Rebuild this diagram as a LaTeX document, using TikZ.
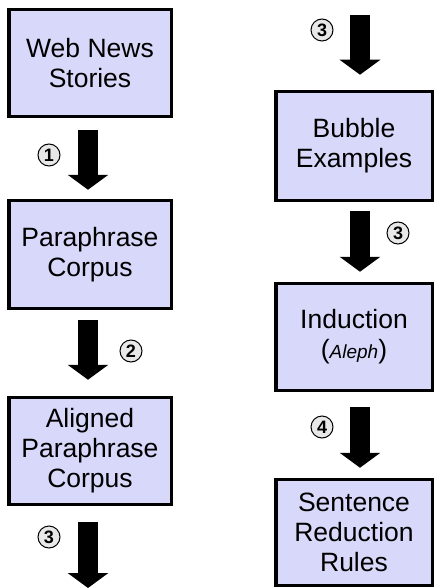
\documentclass[tikz,border=0pt]{standalone}
\usepackage{fontspec}
\setmainfont{Liberation Sans}
\usetikzlibrary{arrows.meta}
\definecolor{boxfill}{RGB}{216,216,250}
\definecolor{numfill}{RGB}{232,232,232}
\begin{document}
\begin{tikzpicture}[x=1pt,y=-1pt,
  box/.style={draw=black, line width=3.5pt, fill=boxfill, minimum width=162.5pt, minimum height=107pt, align=center, font=\fontsize{26.5}{30}\selectfont, inner sep=0pt},
  bigarrow/.style={draw=black, line width=20pt, -{Triangle[width=40pt,length=15pt]}},
  num/.style={circle, draw=black, line width=1pt, fill=numfill, minimum size=22pt, inner sep=0pt, font=\fontsize{18}{18}\selectfont\bfseries}]
\useasboundingbox (0,0) rectangle (435,588);
% boxes
\node[box] (b1) at (90,63) {Web News\\Stories};
\node[box, minimum height=108pt] (b2) at (90,254.5) {Paraphrase\\Corpus};
\node[box] (b3) at (90,451) {Aligned\\Paraphrase\\Corpus};
\node[box, minimum width=156.5pt, minimum height=109pt] (b4) at (354,146) {Bubble\\Examples};
\node[box, minimum width=156.5pt] (b5) at (354,337) {Induction\\(\fontsize{19}{30}\selectfont\textit{Aleph}\fontsize{26.5}{30}\selectfont)};
\node[box, minimum width=156.5pt, minimum height=106pt] (b6) at (354,532.5) {Sentence\\Reduction\\Rules};
% free ends
\coordinate (endL) at (88,588);
\coordinate (startR) at (360,15);
% arrows
\draw[bigarrow] ([xshift=-2pt,yshift=-12pt]b1.south) -- ([xshift=-2pt,yshift=9pt]b2.north);
\draw[bigarrow] ([xshift=-2pt,yshift=-10pt]b2.south) -- ([xshift=-2pt,yshift=16pt]b3.north);
\draw[bigarrow] ([xshift=-2pt,yshift=-16pt]b3.south) -- (endL);
\draw[bigarrow] (startR) -- ([xshift=6pt,yshift=15pt]b4.north);
\draw[bigarrow] ([xshift=6pt,yshift=-9pt]b4.south) -- ([xshift=6pt,yshift=10pt]b5.north);
\draw[bigarrow] ([xshift=6pt,yshift=-15pt]b5.south) -- ([xshift=6pt,yshift=10pt]b6.north);
% step numbers
\node[num] (n1) at (49,155) {1};
\node[num] (n2) at (131,351) {2};
\node[num] (n3a) at (49,537) {3};
\node[num] (n3b) at (322,30) {3};
\node[num] (n3c) at (398,233) {3};
\node[num] (n4) at (322,427) {4};
\end{tikzpicture}
\end{document}
